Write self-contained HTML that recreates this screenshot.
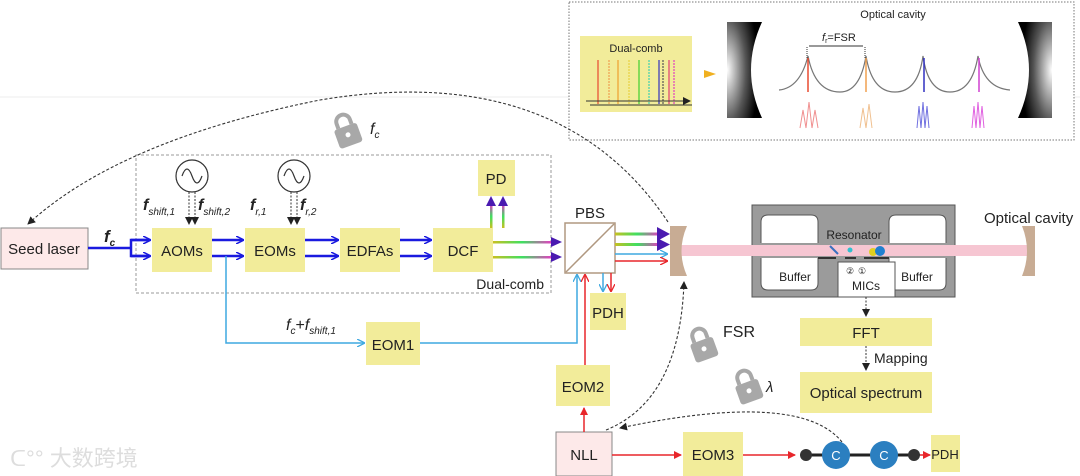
<!DOCTYPE html>
<html><head><meta charset="utf-8"><style>
html,body{margin:0;padding:0;background:#fff;}
svg{display:block;font-family:"Liberation Sans",Arial,sans-serif;}
</style></head><body>
<svg width="1080" height="476" viewBox="0 0 1080 476" xmlns="http://www.w3.org/2000/svg">
<defs>
<marker id="ab" markerWidth="8" markerHeight="8" refX="7" refY="4" orient="auto" markerUnits="userSpaceOnUse"><path d="M0,0 L8,4 L0,8" fill="none" stroke="#1a1adf" stroke-width="1.5"/></marker>
<marker id="ac" markerWidth="8" markerHeight="8" refX="7" refY="4" orient="auto" markerUnits="userSpaceOnUse"><path d="M0,0 L8,4 L0,8" fill="none" stroke="#3fa9e0" stroke-width="1.3"/></marker>
<marker id="ar" markerWidth="8" markerHeight="8" refX="7" refY="4" orient="auto" markerUnits="userSpaceOnUse"><path d="M0,0 L8,4 L0,8" fill="none" stroke="#e8262b" stroke-width="1.3"/></marker>
<marker id="arf" markerWidth="8" markerHeight="8" refX="7" refY="4" orient="auto" markerUnits="userSpaceOnUse"><path d="M0,0 L8,4 L0,8z" fill="#e8262b"/></marker>
<marker id="ak" markerWidth="8" markerHeight="8" refX="7" refY="4" orient="auto" markerUnits="userSpaceOnUse"><path d="M0,0 L8,4 L0,8z" fill="#222"/></marker>
<linearGradient id="rb" x1="0" x2="1"><stop offset="0" stop-color="#c8c020"/><stop offset=".5" stop-color="#3ee060"/><stop offset="1" stop-color="#e040c0"/></linearGradient>
<linearGradient id="rbv" x1="0" y1="1" x2="0" y2="0"><stop offset="0" stop-color="#c8c020"/><stop offset=".5" stop-color="#3ee060"/><stop offset="1" stop-color="#e040c0"/></linearGradient>
<radialGradient id="mg" cx="0" cy=".5" r=".9"><stop offset="0" stop-color="#fff"/><stop offset=".6" stop-color="#555"/><stop offset="1" stop-color="#000"/></radialGradient>
<radialGradient id="mg2" cx="1" cy=".5" r=".9"><stop offset="0" stop-color="#fff"/><stop offset=".6" stop-color="#555"/><stop offset="1" stop-color="#000"/></radialGradient>
</defs>

<line x1="0" y1="97" x2="1080" y2="97" stroke="#eee" stroke-width="1"/>

<!-- top-right inset -->
<rect x="569" y="2" width="505" height="138" fill="#fff" stroke="#777" stroke-width="1" stroke-dasharray="1.5,1.5"/>
<text x="893" y="18" font-size="11" text-anchor="middle" fill="#222">Optical cavity</text>
<rect x="580" y="36" width="112" height="76" fill="#f2ec9a"/>
<text x="636" y="52" font-size="11" text-anchor="middle" fill="#222">Dual-comb</text>
<g stroke-width="1.2">
<line x1="598" y1="60" x2="598" y2="104" stroke="#e84a30"/><line x1="609" y1="60" x2="609" y2="104" stroke="#f0a050" stroke-dasharray="2,1"/>
<line x1="618" y1="60" x2="618" y2="104" stroke="#f0a030"/><line x1="629" y1="60" x2="629" y2="104" stroke="#e8d040" stroke-dasharray="2,1"/>
<line x1="639" y1="60" x2="639" y2="104" stroke="#40d030"/><line x1="649" y1="60" x2="649" y2="104" stroke="#40d0b0" stroke-dasharray="2,1"/>
<line x1="659" y1="60" x2="659" y2="104" stroke="#3030c0"/><line x1="663" y1="60" x2="663" y2="104" stroke="#555" stroke-dasharray="2,1"/>
<line x1="669" y1="60" x2="669" y2="104" stroke="#e04070"/><line x1="674" y1="60" x2="674" y2="104" stroke="#e040c0" stroke-dasharray="2,1"/>
</g>
<line x1="586" y1="101" x2="690" y2="101" stroke="#333" marker-end="url(#ak)"/>
<line x1="590" y1="105" x2="692" y2="105" stroke="#333"/>
<path d="M704,70 L716,74 L704,78z" fill="#f0b020"/>
<path d="M727,22 L762,22 Q740,70 762,118 L727,118z" fill="url(#mg)"/>
<path d="M1052,22 L1018,22 Q1040,70 1018,118 L1052,118z" fill="url(#mg2)"/>
<path d="M779,90 Q800,88 808,56 Q815,92 840,92 Q860,92 866,56 Q872,92 895,92 Q918,92 923,56 Q928,92 950,92 Q972,92 978,56 Q984,88 1010,90" fill="none" stroke="#777" stroke-width="1.2"/>
<line x1="807" y1="47" x2="807" y2="58" stroke="#333" stroke-dasharray="1,1"/><line x1="865" y1="47" x2="865" y2="58" stroke="#333" stroke-dasharray="1,1"/>
<line x1="809" y1="46" x2="863" y2="46" stroke="#333"/>
<text x="822" y="41" font-size="11" fill="#222"><tspan font-style="italic">f</tspan><tspan font-size="7" dy="2">r</tspan><tspan dy="-2">=FSR</tspan></text>
<line x1="808" y1="58" x2="808" y2="92" stroke="#e84a30" stroke-width="1.5"/><line x1="866" y1="58" x2="866" y2="92" stroke="#f0a050" stroke-width="1.5"/>
<line x1="924" y1="58" x2="924" y2="92" stroke="#3030c0" stroke-width="1.5"/><line x1="979" y1="58" x2="979" y2="92" stroke="#d040d0" stroke-width="1.5"/>
<path d="M800,128 L803,110 L806,128 L809,102 L812,128 L815,110 L818,128" fill="none" stroke="#f09090"/>
<path d="M860,128 L863,108 L866,128 L869,104 L872,128" fill="none" stroke="#f0c090"/>
<path d="M917,128 L919,106 L921,128 L923,102 L925,128 L927,106 L929,128" fill="none" stroke="#7070e0"/>
<path d="M972,128 L974,106 L976,128 L978,102 L980,128 L982,106 L984,128" fill="none" stroke="#e060e0"/>

<!-- dashed dual-comb box -->
<rect x="136" y="155" width="415" height="138" fill="none" stroke="#999" stroke-dasharray="3,2"/>
<text x="544" y="289" font-size="14" text-anchor="end" fill="#222">Dual-comb</text>

<path d="M668,222 Q560,60 320,100 Q120,140 28,224" fill="none" stroke="#333" stroke-width="1.1" stroke-dasharray="3,2" marker-end="url(#ak)"/>

<!-- locks -->
<g fill="#a8a8a8">
<g transform="translate(347,132) rotate(-20)"><rect x="-12" y="-6" width="24" height="20" rx="3"/><path d="M-7,-6 v-5 a7,7 0 0 1 14,0 v5" fill="none" stroke="#a8a8a8" stroke-width="4"/><circle cx="0" cy="3" r="2.5" fill="#fff"/></g>
<g transform="translate(703,346) rotate(-20)"><rect x="-12" y="-6" width="24" height="20" rx="3"/><path d="M-7,-6 v-5 a7,7 0 0 1 14,0 v5" fill="none" stroke="#a8a8a8" stroke-width="4"/><circle cx="0" cy="3" r="2.5" fill="#fff"/></g>
<g transform="translate(748,388) rotate(-20)"><rect x="-12" y="-6" width="24" height="20" rx="3"/><path d="M-7,-6 v-5 a7,7 0 0 1 14,0 v5" fill="none" stroke="#a8a8a8" stroke-width="4"/><circle cx="0" cy="3" r="2.5" fill="#fff"/></g>
</g>
<text x="370" y="134" font-size="16" font-style="italic" fill="#222">f<tspan font-size="10" dy="4">c</tspan></text>
<text x="723" y="337" font-size="16" fill="#222">FSR</text>
<text x="766" y="392" font-size="15" font-style="italic" fill="#222">λ</text>

<!-- seed laser -->
<rect x="1" y="228" width="87" height="41" fill="#fde9e9" stroke="#888"/>
<text x="44" y="254" font-size="15" text-anchor="middle" fill="#222">Seed laser</text>
<text x="104" y="242" font-size="17" font-style="italic" font-weight="bold" fill="#222">f<tspan font-size="10" dy="4">c</tspan></text>

<g stroke="#1a1adf" stroke-width="2.5" fill="none">
<line x1="88" y1="248" x2="131" y2="248"/>
<path d="M149,240 L131,240 L131,256 L149,256"/>
<line x1="131" y1="240" x2="150" y2="240" marker-end="url(#ab)"/><line x1="131" y1="256" x2="150" y2="256" marker-end="url(#ab)"/>
<line x1="212" y1="240" x2="243" y2="240" marker-end="url(#ab)"/><line x1="212" y1="256" x2="243" y2="256" marker-end="url(#ab)"/>
<line x1="305" y1="240" x2="338" y2="240" marker-end="url(#ab)"/><line x1="305" y1="256" x2="338" y2="256" marker-end="url(#ab)"/>
<line x1="400" y1="240" x2="431" y2="240" marker-end="url(#ab)"/><line x1="400" y1="256" x2="431" y2="256" marker-end="url(#ab)"/>
</g>
<path d="M226,256 L226,343 L364,343" fill="none" stroke="#3fa9e0" stroke-width="1.5" marker-end="url(#ac)"/>
<path d="M420,343 L577,343 L577,275" fill="none" stroke="#3fa9e0" stroke-width="1.5" marker-end="url(#ac)"/>
<text x="286" y="330" font-size="16" font-style="italic" fill="#222">f<tspan font-size="10" dy="4">c</tspan><tspan dy="-4" font-style="normal">+</tspan>f<tspan font-size="10" dy="4">shift,1</tspan></text>

<g fill="#f2ec9a">
<rect x="152" y="228" width="60" height="44"/><rect x="245" y="228" width="60" height="44"/>
<rect x="340" y="228" width="60" height="44"/><rect x="433" y="228" width="60" height="44"/>
<rect x="478" y="160" width="37" height="36"/>
<rect x="590" y="293" width="36" height="37"/>
<rect x="366" y="322" width="54" height="43"/>
<rect x="556" y="365" width="54" height="41"/>
<rect x="683" y="432" width="60" height="44"/>
<rect x="931" y="435" width="29" height="37"/>
<rect x="800" y="318" width="132" height="28"/>
<rect x="800" y="372" width="132" height="41"/>
</g>
<g font-size="15" text-anchor="middle" fill="#222">
<text x="182" y="256">AOMs</text><text x="275" y="256">EOMs</text><text x="370" y="256">EDFAs</text><text x="463" y="256">DCF</text>
<text x="496" y="184">PD</text><text x="608" y="318">PDH</text><text x="393" y="350">EOM1</text><text x="583" y="392">EOM2</text>
<text x="713" y="460">EOM3</text><text x="945" y="459" font-size="13">PDH</text>
<text x="866" y="338">FFT</text><text x="866" y="398">Optical spectrum</text>
</g>
<rect x="556" y="432" width="56" height="44" fill="#fde9e9" stroke="#888"/>
<text x="584" y="460" font-size="15" text-anchor="middle" fill="#222">NLL</text>

<g fill="#fff" stroke="#333" stroke-width="1.2">
<circle cx="192" cy="176" r="16"/><circle cx="294" cy="176" r="16"/>
</g>
<path d="M182,176 q5,-14 10,0 q5,14 10,0" fill="none" stroke="#333" stroke-width="1.2"/>
<path d="M284,176 q5,-14 10,0 q5,14 10,0" fill="none" stroke="#333" stroke-width="1.2"/>
<g stroke="#333" stroke-width="1" stroke-dasharray="2,1.5">
<line x1="189" y1="192" x2="189" y2="224" marker-end="url(#ak)"/><line x1="195" y1="192" x2="195" y2="224" marker-end="url(#ak)"/>
<line x1="291" y1="192" x2="291" y2="224" marker-end="url(#ak)"/><line x1="297" y1="192" x2="297" y2="224" marker-end="url(#ak)"/>
</g>
<g font-size="16" font-style="italic" font-weight="bold" fill="#222">
<text x="143" y="210">f<tspan font-size="10" font-weight="normal" dy="5">shift,1</tspan></text>
<text x="198" y="210">f<tspan font-size="10" font-weight="normal" dy="5">shift,2</tspan></text>
<text x="250" y="210">f<tspan font-size="10" font-weight="normal" dy="5">r,1</tspan></text>
<text x="300" y="210">f<tspan font-size="10" font-weight="normal" dy="5">r,2</tspan></text>
</g>

<!-- DCF outputs (rainbow) -->
<rect x="493" y="241" width="58" height="2.5" fill="url(#rb)"/>
<rect x="493" y="256" width="58" height="2.5" fill="url(#rb)"/>
<path d="M551,237 L562,242 L551,247z" fill="#4a1ab0"/>
<path d="M551,252 L562,257 L551,262z" fill="#4a1ab0"/>
<rect x="490" y="205" width="2.5" height="23" fill="url(#rbv)"/>
<rect x="502" y="205" width="2.5" height="23" fill="url(#rbv)"/>
<path d="M486,206 L491,196 L496,206z" fill="#4a1ab0"/>
<path d="M498,206 L503,196 L508,206z" fill="#4a1ab0"/>

<!-- PBS -->
<rect x="565" y="223" width="50" height="50" fill="#fff" stroke="#b09880" stroke-width="1.5"/>
<line x1="566" y1="272" x2="614" y2="224" stroke="#b09880" stroke-width="1.5"/>
<text x="590" y="218" font-size="15" text-anchor="middle" fill="#222">PBS</text>
<rect x="615" y="232.5" width="44" height="3" fill="url(#rb)"/>
<rect x="615" y="243" width="44" height="3" fill="url(#rb)"/>
<path d="M657,227 L670,234 L657,241z" fill="#4a1ab0"/>
<path d="M657,238 L670,244.5 L657,251z" fill="#4a1ab0"/>
<line x1="615" y1="254" x2="667" y2="254" stroke="#3fa9e0" stroke-width="1.5" marker-end="url(#ac)"/>
<line x1="615" y1="261" x2="667" y2="261" stroke="#e8262b" stroke-width="1.5" marker-end="url(#ar)"/>
<line x1="603" y1="273" x2="603" y2="291" stroke="#3fa9e0" stroke-width="1.5" marker-end="url(#ac)"/>
<line x1="611" y1="273" x2="611" y2="291" stroke="#e8262b" stroke-width="1.5" marker-end="url(#ar)"/>
<line x1="585" y1="365" x2="585" y2="275" stroke="#e8262b" stroke-width="1.5" marker-end="url(#ar)"/>
<line x1="584" y1="432" x2="584" y2="408" stroke="#e8262b" stroke-width="1.5" marker-end="url(#arf)"/>
<line x1="612" y1="455" x2="681" y2="455" stroke="#e8262b" stroke-width="1.5" marker-end="url(#arf)"/>
<line x1="743" y1="455" x2="795" y2="455" stroke="#e8262b" stroke-width="1.5" marker-end="url(#arf)"/>
<line x1="918" y1="455" x2="930" y2="455" stroke="#e8262b" stroke-width="1.5" marker-end="url(#arf)"/>

<!-- resonator -->
<rect x="752" y="205" width="203" height="92" fill="#9b9b9b" stroke="#555"/>
<!-- beam -->
<rect x="680" y="245" width="352" height="11" fill="#f6c6d2"/>
<g fill="#fff" stroke="#555">
<path d="M761,243 L761,222 Q761,215 768,215 L811,215 Q818,215 818,222 L818,243"/>
<path d="M889,243 L889,222 Q889,215 896,215 L939,215 Q946,215 946,222 L946,243"/>
<path d="M761,258 L761,283 Q761,290 768,290 L811,290 Q818,290 818,283 L818,258"/>
<path d="M889,258 L889,283 Q889,290 896,290 L939,290 Q946,290 946,283 L946,258"/>
<rect x="838" y="262" width="57" height="35"/>
</g>
<line x1="818" y1="258" x2="836" y2="258" stroke="#333" stroke-width="2"/>
<line x1="845" y1="258" x2="856" y2="258" stroke="#333" stroke-width="2"/>
<line x1="864" y1="258" x2="889" y2="258" stroke="#333" stroke-width="2"/>
<text x="854" y="239" font-size="12" text-anchor="middle" fill="#222">Resonator</text>
<text x="795" y="281" font-size="12" text-anchor="middle" fill="#222">Buffer</text>
<text x="917" y="281" font-size="12" text-anchor="middle" fill="#222">Buffer</text>
<text x="866" y="290" font-size="12" text-anchor="middle" fill="#222">MICs</text>
<text x="850" y="274" font-size="9" text-anchor="middle" fill="#222">②</text><text x="862" y="274" font-size="9" text-anchor="middle" fill="#222">①</text>
<line x1="830" y1="246" x2="838" y2="254" stroke="#3a70c0" stroke-width="2"/>
<circle cx="850" cy="250" r="2.5" fill="#30c0d0"/>
<circle cx="873" cy="252" r="4" fill="#e0d020"/><circle cx="880" cy="251" r="5" fill="#2080d0"/>

<!-- mirrors -->
<path d="M670,226 L687,226 Q676,251 687,276 L670,276z" fill="#c8ac94"/>
<path d="M1035,226 L1022,226 Q1032,251 1022,276 L1035,276z" fill="#c8ac94"/>
<text x="984" y="223" font-size="15" fill="#222">Optical cavity</text>

<line x1="866" y1="297" x2="866" y2="316" stroke="#333" stroke-dasharray="2,1.5" marker-end="url(#ak)"/>
<line x1="866" y1="346" x2="866" y2="370" stroke="#333" stroke-dasharray="2,1.5" marker-end="url(#ak)"/>
<text x="874" y="363" font-size="14" fill="#222">Mapping</text>

<path d="M606,430 Q680,400 684,282" fill="none" stroke="#333" stroke-width="1.1" stroke-dasharray="3,2" marker-end="url(#ak)"/>
<path d="M842,442 Q800,390 620,428" fill="none" stroke="#333" stroke-width="1.1" stroke-dasharray="3,2" marker-end="url(#ak)"/>

<!-- molecule -->
<line x1="805" y1="455" x2="915" y2="455" stroke="#222" stroke-width="3"/>
<circle cx="806" cy="455" r="6" fill="#333"/><circle cx="914" cy="455" r="6" fill="#333"/>
<circle cx="836" cy="455" r="14" fill="#2b7fc0"/><circle cx="884" cy="455" r="14" fill="#2b7fc0"/>
<text x="836" y="460" font-size="13" fill="#fff" text-anchor="middle">C</text><text x="884" y="460" font-size="13" fill="#fff" text-anchor="middle">C</text>

<text x="10" y="466" font-size="22" fill="#ddd" font-family="'Liberation Sans','Noto Sans CJK SC',sans-serif">ᑕ°° 大数跨境</text>
</svg>
</body></html>
